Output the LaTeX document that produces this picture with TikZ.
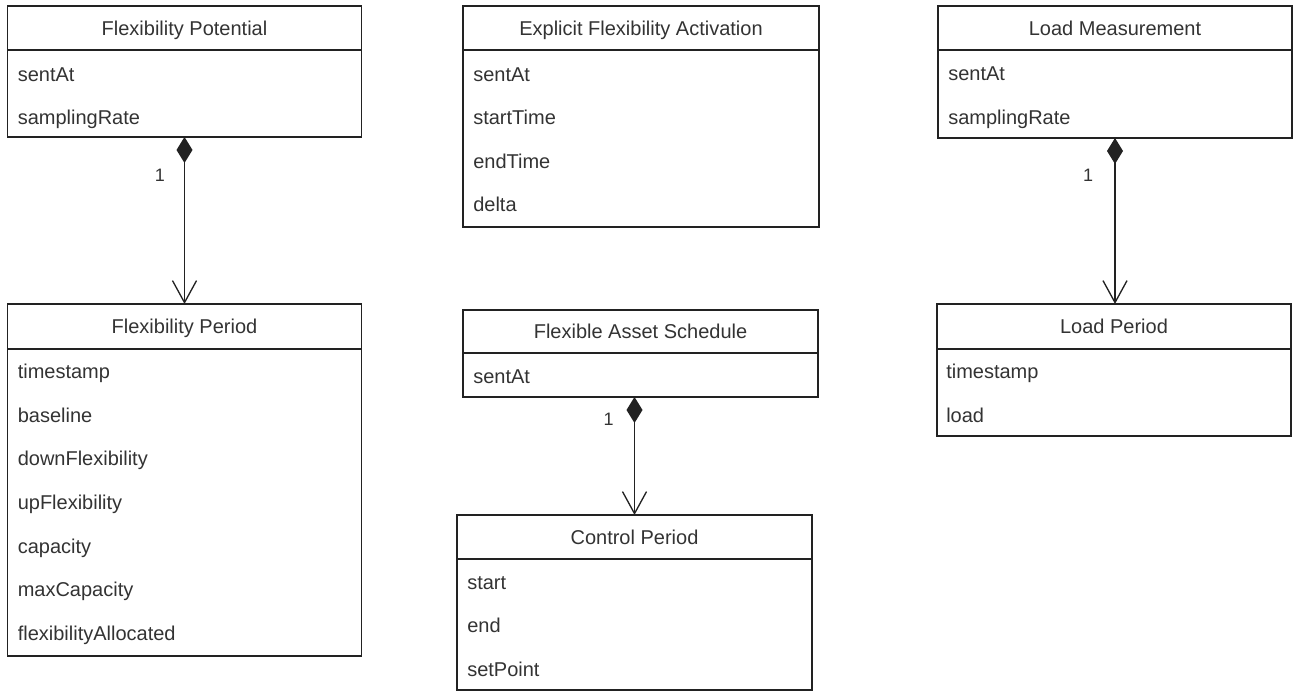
\documentclass[tikz,border=0pt]{standalone}
\usepackage{fontspec}
\setmainfont{Liberation Sans}
\usetikzlibrary{arrows.meta,fit}
\definecolor{txt}{HTML}{333333}
\definecolor{ln}{HTML}{222222}
\newcommand\umlcls[6]{%
  \coordinate (#1-nw) at (#2,#3);
  \coordinate (#1-se) at (#4,#5);
  \node[clsbox,fit=(#1-nw)(#1-se)] (#1) {};
  \draw[sepline] (#2,#6) -- (#4,#6);
}
\begin{document}
\begin{tikzpicture}[x=0.75pt,y=-0.75pt,
  clsbox/.style={draw=ln,line width=1pt,inner sep=0pt,outer sep=0pt},
  sepline/.style={draw=ln,line width=1pt},
  ttl/.style={text=txt,font=\fontsize{15pt}{18pt}\selectfont,inner sep=0pt,text height=10.7pt,text depth=0pt},
  attr/.style={ttl,anchor=west},
  mult/.style={text=txt,font=\fontsize{13.5pt}{16pt}\selectfont,inner sep=0pt,text height=9.6pt,text depth=0pt},
  comp/.style={draw=ln,line width=1pt,arrows={Diamond[length=19.5pt,width=12pt]-Straight Barb[length=16.5pt,width=18pt,line width=1pt]}}
]
\useasboundingbox (0,0) rectangle (1293,691);

% Flexibility Potential
\umlcls{fp}{7.5}{6}{361.5}{137}{50}
\node[ttl] (fp-t) at (184.5,28) {Flexibility Potential};
\node[attr] (fp-a1) at (17.5,74) {sentAt};
\node[attr] (fp-a2) at (17.5,117) {samplingRate};

% Flexibility Period
\umlcls{fper}{7.5}{304}{361.5}{656}{349}
\node[ttl] (fper-t) at (184.5,326.5) {Flexibility Period};
\node[attr] (fper-a1) at (17.5,371.5) {timestamp};
\node[attr] (fper-a2) at (17.5,415) {baseline};
\node[attr] (fper-a3) at (17.5,458.7) {downFlexibility};
\node[attr] (fper-a4) at (17.5,502.3) {upFlexibility};
\node[attr] (fper-a5) at (17.5,546) {capacity};
\node[attr] (fper-a6) at (17.5,589.6) {maxCapacity};
\node[attr] (fper-a7) at (17.5,633.2) {flexibilityAllocated};

% Explicit Flexibility Activation
\umlcls{efa}{463}{6}{819}{227}{50}
\node[ttl] (efa-t) at (641,28) {Explicit Flexibility Activation};
\node[attr] (efa-a1) at (473,74) {sentAt};
\node[attr] (efa-a2) at (473,117.5) {startTime};
\node[attr] (efa-a3) at (473,161) {endTime};
\node[attr] (efa-a4) at (473,204.5) {delta};

% Load Measurement
\umlcls{lm}{938}{6}{1292}{138}{50}
\node[ttl] (lm-t) at (1115,28) {Load Measurement};
\node[attr] (lm-a1) at (948,73.5) {sentAt};
\node[attr] (lm-a2) at (948,117) {samplingRate};

% Load Period
\umlcls{lp}{937}{304}{1291}{436}{349}
\node[ttl] (lp-t) at (1114,326.5) {Load Period};
\node[attr] (lp-a1) at (946,371.5) {timestamp};
\node[attr] (lp-a2) at (946,415) {load};

% Flexible Asset Schedule
\umlcls{fas}{463}{310}{818}{397}{353}
\node[ttl] (fas-t) at (640.5,331.5) {Flexible Asset Schedule};
\node[attr] (fas-a1) at (473,376.5) {sentAt};

% Control Period
\umlcls{cp}{457}{515}{812}{690}{559}
\node[ttl] (cp-t) at (634.5,537) {Control Period};
\node[attr] (cp-a1) at (467,582) {start};
\node[attr] (cp-a2) at (467,625.5) {end};
\node[attr] (cp-a3) at (467,669) {setPoint};

% Compositions
\draw[comp] (fp.south) -- (fper.north);
\draw[comp] (lm.south) -- (lm.south |- lp.north);
\draw[comp] (cp.north |- fas.south) -- (cp.north);

% Multiplicities
\node[mult] (m1) at (160,175) {1};
\node[mult] (m2) at (1088,175) {1};
\node[mult] (m3) at (608.5,419) {1};
\end{tikzpicture}
\end{document}
